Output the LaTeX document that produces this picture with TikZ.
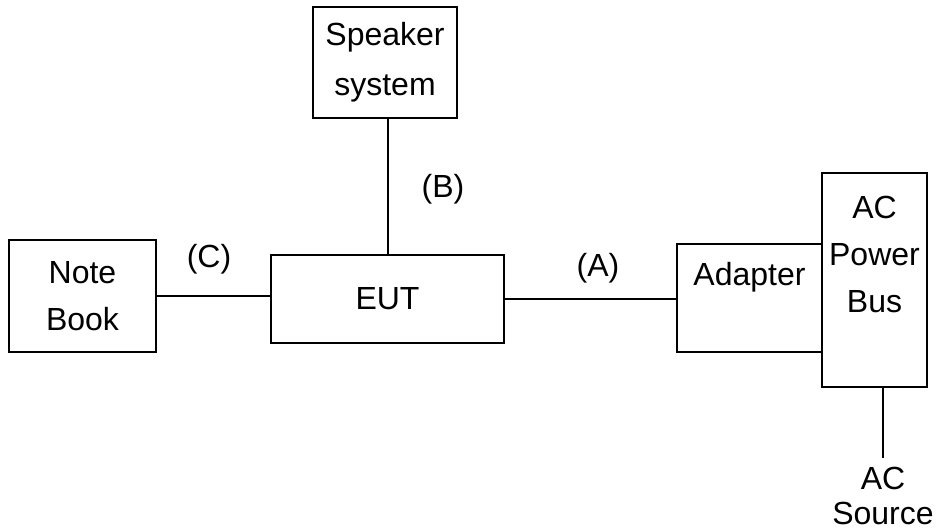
\documentclass[tikz,border=0pt]{standalone}
\usepackage{fontspec}
\setmainfont{Liberation Sans}
\usetikzlibrary{positioning}

\begin{document}
\begin{tikzpicture}[x=0.5pt,y=-0.5pt,
  every node/.style={font=\fontsize{16}{23.5}\selectfont},
  box/.style={draw, line width=1pt, inner sep=0pt, align=center},
  tag/.style={inner sep=0pt, align=center},
  wire/.style={line width=1pt}]
\useasboundingbox (0,0) rectangle (939,530);

% Boxes
\node[box, minimum width=72pt, minimum height=55.5pt,
  font=\fontsize{16}{25}\selectfont] (speaker) at (385,62.5) {Speaker\\system};
\node[box, minimum width=116.5pt, minimum height=44pt] (eut) at (387.5,299) {EUT};
\node[box, minimum width=73.5pt, minimum height=56pt] (notebook) at (82.5,296) {Note\\Book};
\node[box, minimum width=72.5pt, minimum height=54pt,
  label={[tag, yshift=10.5pt]center:Adapter}] (adapter) at (749.5,298) {};
\node[box, minimum width=52.5pt, minimum height=107pt,
  label={[tag, yshift=13pt]center:AC\\Power\\Bus}] (acbus) at (874.5,280) {};

% Cables
\draw[wire] (eut.north) -- (eut.north |- speaker.south);
\draw[wire] (notebook.east) -- (notebook.east -| eut.west);
\draw[wire] (eut.east) -- (eut.east -| adapter.west);
\coordinate (source) at (883,458);
\draw[wire] (source |- acbus.south) -- (source);
\node[tag, font=\fontsize{16}{17.5}\selectfont] (sourcetext) at ([yshift=-19pt]source) {AC\\Source};

% Cable labels
\node[tag] (labelB) at (443,189) {(B)};
\node[tag] (labelC) at (209,259) {(C)};
\node[tag] (labelA) at (598,268) {(A)};
\end{tikzpicture}
\end{document}
